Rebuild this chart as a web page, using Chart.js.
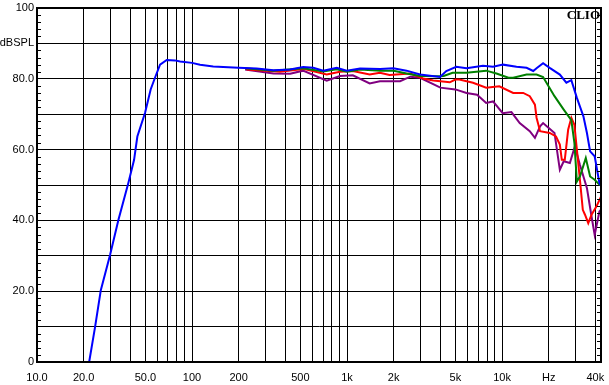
<!DOCTYPE html>
<html>
<head>
<meta charset="utf-8">
<script src="https://cdn.jsdelivr.net/npm/chart.js@4.4.1/dist/chart.umd.min.js"></script>
<style>
  html, body { margin: 0; padding: 0; background: #fff; }
  canvas { display: block; }
</style>
</head>
<body>
<canvas id="clioChart" width="609" height="385"></canvas>
<script>
// Frequency response curves (Hz / dBSPL)
const blueFreq = [21.7, 23.7, 25.8, 29.6, 33.5, 38.8, 42.3, 44.4, 49.8, 54.1, 57.7, 62.2, 68.7, 77.6, 83.8, 100, 112.7, 137, 199, 261, 335, 429, 522, 606, 703, 858, 995, 1214, 1634, 1990, 2420, 2960, 3980, 4370, 5070, 5900, 7530, 8750, 10150, 12400, 14400, 15900, 16700, 18400, 20300, 23600, 26000, 28000, 30400, 33500, 35300, 37000, 39600, 42500, 43500];
const blueDb = [0, 9.9, 20.3, 30.2, 40.1, 50.5, 57.1, 63.7, 70.4, 77, 80.3, 84, 85.3, 85.2, 84.9, 84.5, 84.0, 83.5, 83.1, 82.9, 82.4, 82.6, 83.3, 83.1, 82.3, 83.1, 82.3, 82.9, 82.8, 83.0, 82.3, 81.2, 80.5, 82.2, 83.4, 83.0, 83.7, 83.4, 84.0, 83.4, 83.1, 82.2, 83.0, 84.4, 83.1, 81.2, 78.9, 79.6, 74.6, 69.4, 64.7, 59.5, 58.1, 50.5, 49.8];

const greenFreq = [220, 335, 522, 703, 858, 1000, 1214, 1634, 2000, 2420, 2960, 3980, 4200, 4800, 5900, 7900, 9200, 11000, 11800, 14400, 16700, 18400, 21800, 25000, 28000, 29300, 30400, 31800, 34700, 37000, 39600, 42500, 43500];
const greenDb = [83.0, 82.3, 83.0, 82.1, 82.7, 82.0, 82.6, 82.3, 82.3, 81.5, 80.8, 80.7, 80.8, 81.7, 81.7, 82.3, 81.5, 80.3, 80.3, 81.2, 81.2, 80.5, 75.1, 71.3, 68.3, 61.9, 51.0, 52.4, 57.6, 52.4, 51.5, 50.1, 50.0];

const redFreq = [225, 370, 522, 740, 900, 1090, 1400, 1630, 1880, 2560, 3100, 3600, 4600, 5000, 5300, 6500, 7900, 9600, 11800, 13700, 15100, 16300, 16700, 17600, 20300, 22300, 23600, 24300, 25400, 26700, 28000, 29300, 30400, 31800, 33200, 34300, 36000, 37800, 40600, 43500];
const redDb = [82.6, 82.0, 82.8, 81.2, 82.0, 82.2, 81.2, 81.7, 81.1, 81.5, 80.1, 79.5, 79.0, 79.8, 79.8, 78.9, 77.5, 77.9, 76.0, 76.0, 75.1, 72.7, 69.0, 65.2, 64.7, 63.7, 61.4, 57.1, 57.1, 65.6, 69.0, 67.0, 60.0, 51.5, 43.0, 41.6, 39.2, 41.6, 43.9, 46.7];

const purpleFreq = [220, 335, 430, 520, 740, 900, 1090, 1400, 1630, 1880, 2200, 2560, 2960, 4000, 5000, 5900, 6900, 7900, 8750, 10100, 11500, 13000, 15100, 16300, 17600, 18400, 21800, 23600, 25000, 27400, 29500, 31800, 35300, 37800, 39600, 42500, 43500];
const purpleDb = [82.6, 81.5, 81.4, 82.3, 79.5, 80.8, 81.0, 78.7, 79.3, 79.3, 79.3, 80.6, 80.3, 77.5, 77.0, 76.0, 75.5, 73.2, 73.6, 70.3, 70.6, 67.5, 65.2, 63.3, 66.6, 67.5, 64.7, 54.3, 56.7, 56.2, 60.9, 55.7, 49.1, 41.1, 35.9, 42.5, 43.0];

// Axis ticks and labels
const freqGrid = [10, 20, 30, 40, 50, 60, 70, 80, 90, 100, 200, 300, 400, 500, 600, 700, 800, 900,
  1000, 2000, 3000, 4000, 5000, 6000, 7000, 8000, 9000, 10000, 20000, 30000, 40000];
const freqLabels = { 10: '10.0', 20: '20.0', 50: '50.0', 100: '100', 200: '200', 500: '500',
  1000: '1k', 2000: '2k', 5000: '5k', 10000: '10k', 20000: 'Hz', 40000: '40k' };
const dbLabels = { 0: '0', 20: '20.0', 40: '40.0', 60: '60.0', 80: '80.0', 90: 'dBSPL', 100: '100' };

function toPoints(xs, ys) {
    return xs.map((x, i) => ({ x: x, y: ys[i] }));
}

// Frame around the plot plus the small 2 dB ticks on both sides
const framePlugin = {
    id: 'frame',
    afterDraw(chart) {
        const { ctx, chartArea: a, scales } = chart;
        ctx.save();
        ctx.strokeStyle = '#000';
        ctx.lineWidth = 1;
        ctx.beginPath();
        for (let v = 2; v < 100; v += 2) {
            if (v % 10 === 0) continue;
            const y = Math.round(scales.y.getPixelForValue(v)) + 0.5;
            ctx.moveTo(a.left, y);
            ctx.lineTo(a.left + 4, y);
            ctx.moveTo(a.right - 4, y);
            ctx.lineTo(a.right, y);
        }
        ctx.stroke();
        ctx.lineWidth = 2;
        ctx.strokeRect(a.left, a.top, a.right - a.left, a.bottom - a.top);
        ctx.font = 'bold 13px "Liberation Serif"';
        ctx.fillStyle = '#000';
        ctx.textAlign = 'right';
        ctx.textBaseline = 'alphabetic';
        ctx.fillText('CLIO', a.right - 1, a.top + 11);
        ctx.restore();
    }
};

Chart.defaults.font.family = '"Liberation Sans", Arial, sans-serif';
Chart.defaults.font.size = 11;
Chart.defaults.color = '#000';

const ctx = document.getElementById('clioChart').getContext('2d');
new Chart(ctx, {
    type: 'line',
    data: {
        datasets: [
            { label: 'blue', data: toPoints(blueFreq, blueDb), borderColor: '#0000ff' },
            { label: 'green', data: toPoints(greenFreq, greenDb), borderColor: '#008000' },
            { label: 'red', data: toPoints(redFreq, redDb), borderColor: '#ff0000' },
            { label: 'purple', data: toPoints(purpleFreq, purpleDb), borderColor: '#800080' }
        ]
    },
    options: {
        responsive: false,
        animation: false,
        devicePixelRatio: 1,
        layout: { padding: { top: 8, right: 8, left: 0, bottom: 0 } },
        elements: {
            line: { borderWidth: 2, tension: 0, fill: false },
            point: { radius: 0 }
        },
        plugins: {
            legend: { display: false },
            tooltip: { enabled: false }
        },
        scales: {
            x: {
                type: 'logarithmic',
                min: 10,
                max: 43500,
                afterBuildTicks: (scale) => {
                    scale.ticks = freqGrid.map(v => ({ value: v }));
                },
                afterFit: (scale) => {
                    scale.height = 23;
                    scale.paddingLeft = 0;
                    scale.paddingRight = 0;
                },
                grid: { color: '#000', lineWidth: 1, drawTicks: false },
                border: { color: '#000', width: 2 },
                ticks: {
                    autoSkip: false,
                    maxRotation: 0,
                    padding: 9,
                    callback: (value) => freqLabels[value] || ''
                }
            },
            y: {
                min: 0,
                max: 100,
                afterFit: (scale) => {
                    scale.width = 37;
                    scale.paddingTop = 0;
                    scale.paddingBottom = 0;
                },
                grid: { color: '#000', lineWidth: 1, drawTicks: false },
                border: { color: '#000', width: 2 },
                ticks: {
                    stepSize: 10,
                    padding: 3,
                    callback: (value) => (value in dbLabels ? dbLabels[value] : '')
                }
            }
        }
    },
    plugins: [framePlugin]
});
</script>
</body>
</html>
